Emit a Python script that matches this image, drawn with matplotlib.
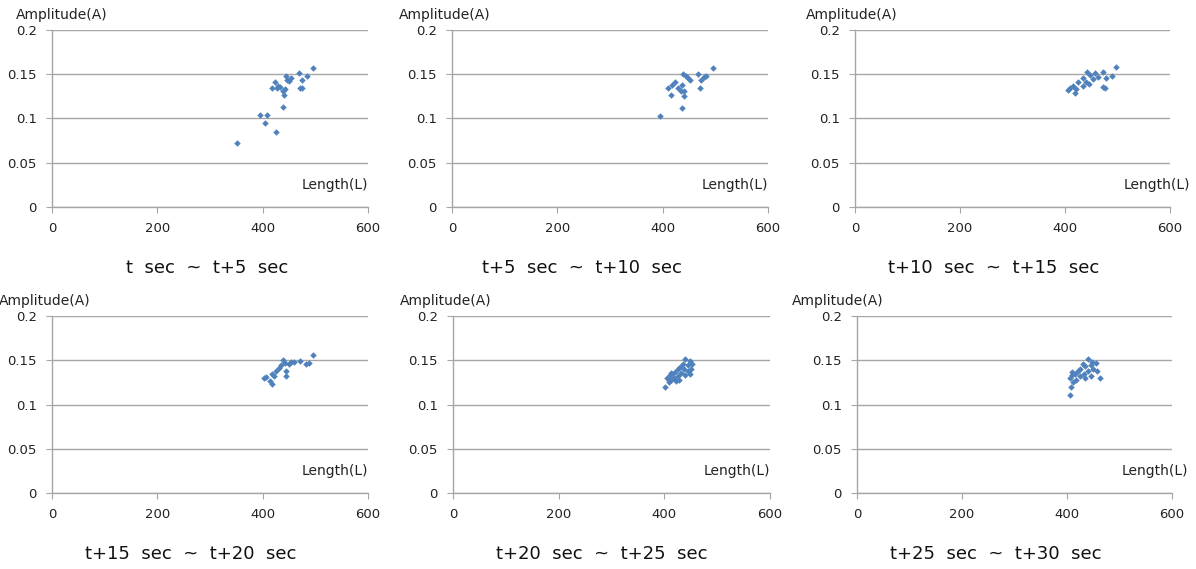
import matplotlib
matplotlib.use("Agg")
import matplotlib.pyplot as plt

titles = ["t  sec  ~  t+5  sec", "t+5  sec  ~  t+10  sec", "t+10  sec  ~  t+15  sec",
          "t+15  sec  ~  t+20  sec", "t+20  sec  ~  t+25  sec", "t+25  sec  ~  t+30  sec"]

len1 = [495, 469, 474, 484, 453, 444, 450, 423, 418, 433, 439, 441, 471, 474, 439, 395, 408, 404, 425, 352, 447, 430, 427, 442]
amp1 = [0.157, 0.151, 0.1435, 0.148, 0.146, 0.148, 0.142, 0.141, 0.134, 0.136, 0.131, 0.126, 0.135, 0.134, 0.113, 0.1035, 0.1035, 0.0945, 0.0844, 0.0727, 0.144, 0.137, 0.135, 0.133]

len2 = [495, 467, 483, 472, 452, 439, 445, 424, 410, 415, 429, 434, 441, 441, 470, 437, 395, 448, 418, 436, 478]
amp2 = [0.157, 0.150, 0.148, 0.1435, 0.1435, 0.150, 0.148, 0.141, 0.135, 0.127, 0.135, 0.131, 0.131, 0.125, 0.135, 0.112, 0.103, 0.146, 0.138, 0.138, 0.147]

len3 = [498, 489, 473, 478, 457, 442, 453, 435, 425, 446, 473, 434, 416, 409, 406, 419, 440, 476, 421, 447, 462]
amp3 = [0.158, 0.148, 0.153, 0.1455, 0.151, 0.152, 0.1446, 0.1455, 0.1416, 0.1386, 0.136, 0.137, 0.137, 0.134, 0.132, 0.1285, 0.1416, 0.134, 0.133, 0.149, 0.147]

len4 = [496, 488, 482, 471, 453, 450, 439, 442, 431, 426, 444, 444, 417, 407, 402, 414, 417, 422, 435, 460]
amp4 = [0.156, 0.1466, 0.1454, 0.149, 0.1477, 0.1458, 0.150, 0.1466, 0.1416, 0.1379, 0.1379, 0.1326, 0.1342, 0.1315, 0.1296, 0.1266, 0.1229, 0.132, 0.145, 0.148]

len5 = [440, 448, 452, 445, 435, 430, 425, 420, 415, 410, 405, 402, 408, 413, 418, 425, 432, 438, 445, 450, 412, 428, 440, 448, 422]
amp5 = [0.151, 0.149, 0.146, 0.145, 0.146, 0.142, 0.14, 0.137, 0.135, 0.133, 0.13, 0.12, 0.125, 0.128, 0.13, 0.132, 0.136, 0.14, 0.138, 0.14, 0.136, 0.128, 0.133, 0.135, 0.126]

len6 = [440, 448, 455, 445, 435, 430, 425, 420, 415, 410, 405, 407, 405, 412, 418, 425, 432, 440, 450, 458, 462, 435, 445, 410]
amp6 = [0.151, 0.148, 0.147, 0.145, 0.143, 0.146, 0.14, 0.138, 0.135, 0.133, 0.13, 0.12, 0.111, 0.125, 0.128, 0.132, 0.134, 0.138, 0.14, 0.138, 0.13, 0.13, 0.132, 0.137]

lengths = [len1, len2, len3, len4, len5, len6]
amps = [amp1, amp2, amp3, amp4, amp5, amp6]

W, H = 1196, 569
fig = plt.figure(figsize=(W / 100, H / 100), dpi=100)

# pixel boxes of each plot area: left, right, top, bottom
boxes = [(52, 368, 30, 207), (452, 768, 30, 207), (855, 1170, 30, 207),
         (52, 368, 316, 493), (453, 770, 316, 493), (857, 1172, 316, 493)]
title_x = [0.49, 0.41, 0.44, 0.44, 0.47, 0.44]
amp_off = [-26, -38, -35, -38, -38, -47]
len_x = [1.0, 1.0, 1.065, 1.0, 1.0, 1.05]

grey = "#a6a6a6"
for i in range(6):
    l, r, t, b = boxes[i]
    ax = fig.add_axes([l / W, 1 - b / H, (r - l) / W, (b - t) / H])
    ax.scatter(lengths[i], amps[i], marker="D", s=11, color="#4f81bd", linewidths=0, zorder=3)
    ax.set_xlim(0, 600)
    ax.set_ylim(0, 0.2)
    ax.set_xticks([0, 200, 400, 600])
    ax.set_yticks([0, 0.05, 0.1, 0.15, 0.2])
    ax.set_yticklabels(["0", "0.05", "0.1", "0.15", "0.2"])
    ax.yaxis.grid(True, color=grey, linewidth=1)
    ax.set_axisbelow(True)
    for s in ["top", "right"]:
        ax.spines[s].set_visible(False)
    for s in ["left", "bottom"]:
        ax.spines[s].set_color(grey)
        ax.spines[s].set_linewidth(1)
    ax.tick_params(direction="out", length=4, color=grey, labelsize=9.5, labelcolor="#222222", pad=7)
    ax.annotate("Amplitude(A)", xy=(0, 1), xycoords="axes fraction", xytext=(amp_off[i], 6),
                textcoords="offset points", fontsize=10, ha="left", va="bottom", color="#222222")
    ax.text(len_x[i], 0.125, "Length(L)", transform=ax.transAxes,
            fontsize=10, ha="right", va="center", color="#222222")
    ax.text(title_x[i], -0.345, titles[i], transform=ax.transAxes, fontsize=13,
            ha="center", va="center", color="#111111")

fig.savefig("out.png", dpi=100)
